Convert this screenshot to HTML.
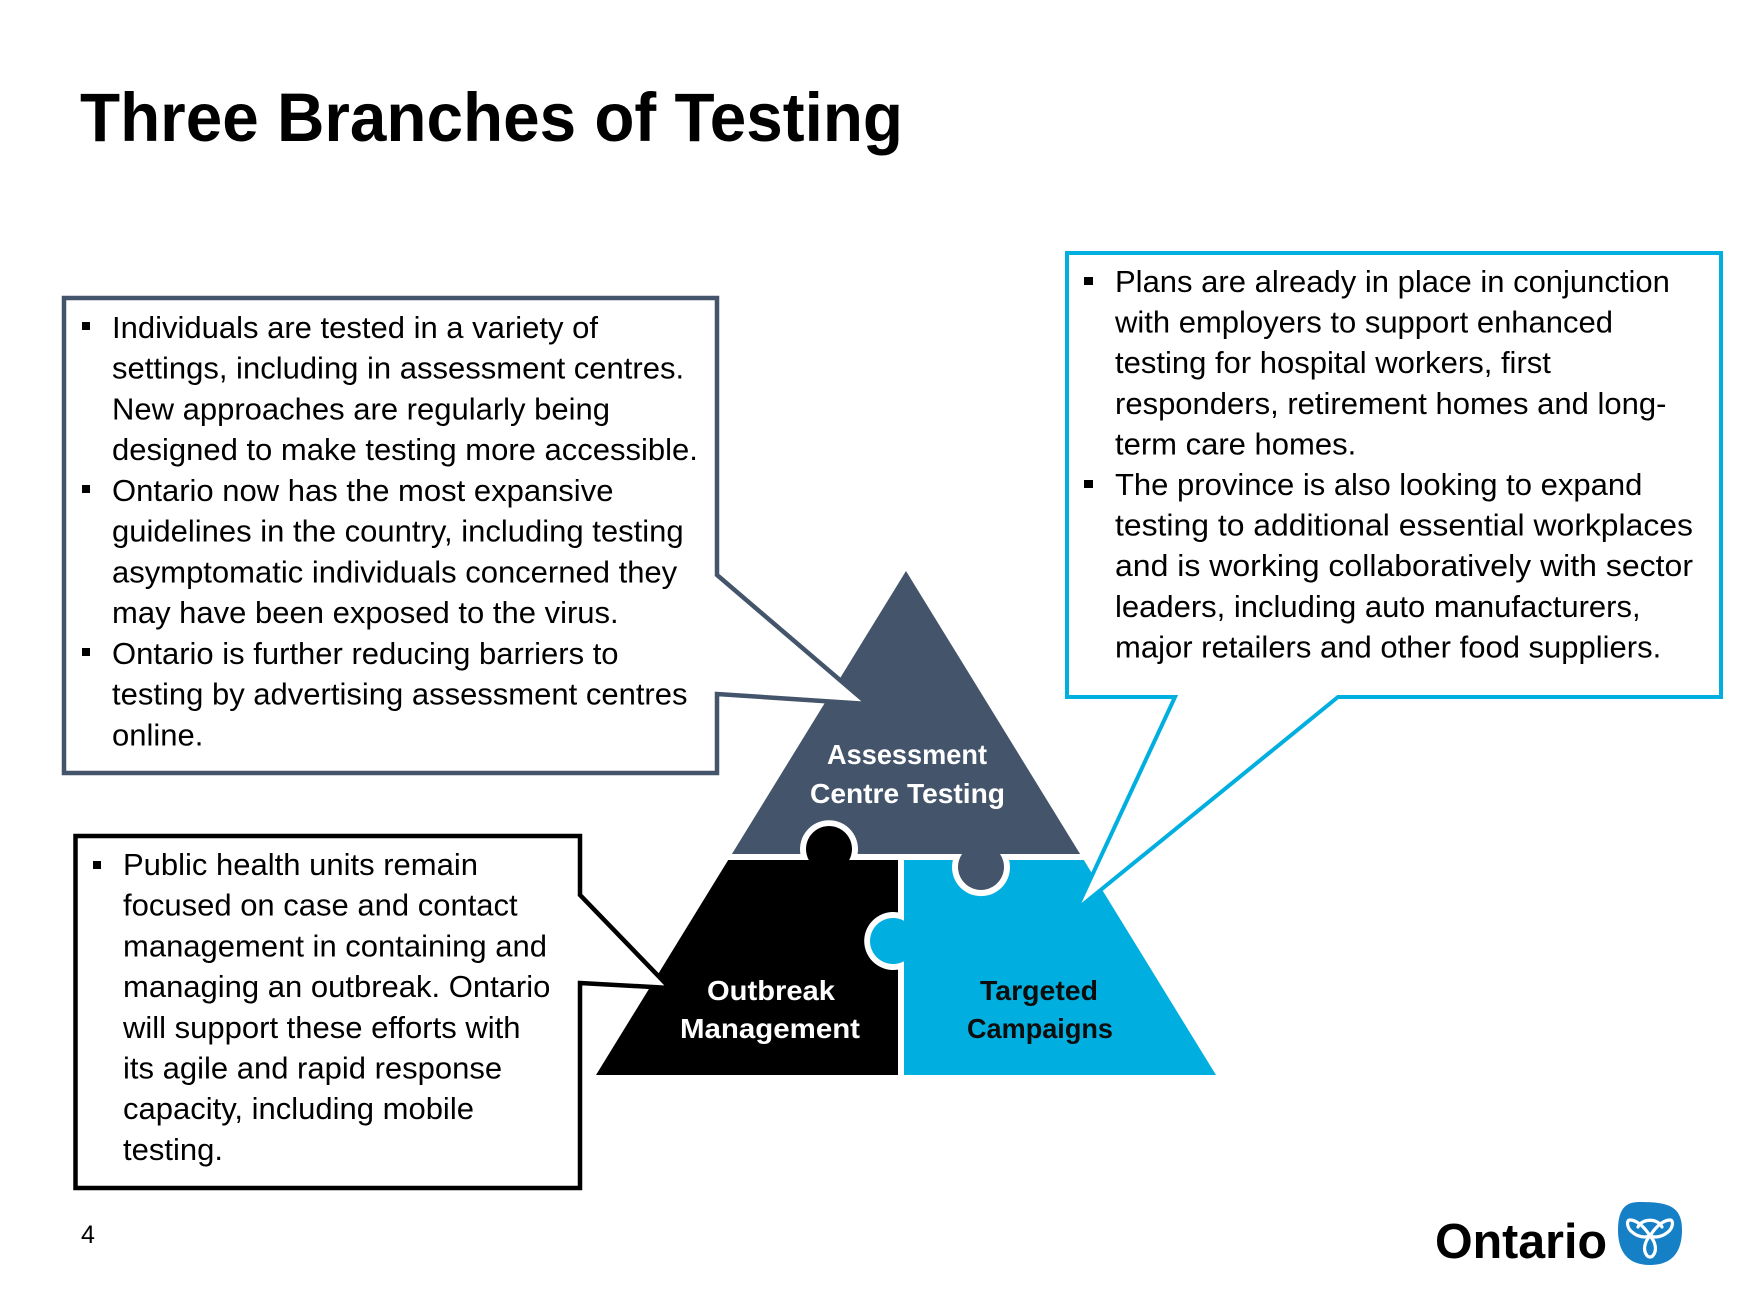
<!DOCTYPE html>
<html>
<head>
<meta charset="utf-8">
<style>
  html, body { margin: 0; padding: 0; background: #ffffff; }
  body { width: 1741px; height: 1307px; overflow: hidden; }
  svg { display: block; }
  .t { font-family: "Liberation Sans", Arial, sans-serif; font-size: 31px; fill: #000; }
  .lbl { font-family: "Liberation Sans", Arial, sans-serif; font-size: 28px; font-weight: bold; }
</style>
</head>
<body>
<svg width="1741" height="1307" viewBox="0 0 1741 1307" xmlns="http://www.w3.org/2000/svg">
  <rect x="0" y="0" width="1741" height="1307" fill="#ffffff"/>

  <!-- Title -->
  <text x="80" y="141" font-family="Liberation Sans, Arial, sans-serif" font-size="69" font-weight="bold" fill="#000" textLength="823" lengthAdjust="spacingAndGlyphs">Three Branches of Testing</text>

  <!-- Pyramid pieces -->
  <g transform="translate(-2,0)">
  <path d="M908,571 L1082.1,854 L1002,854 A23,23 0 1 1 964,854 L859.6,854 A29,29 0 1 0 802.4,854 L733.9,854 Z" fill="#44546A"/>
  <path d="M730.2,860 L810.8,860 A23,23 0 1 1 851.2,860 L900,860 L900,912.4 A29,29 0 1 0 900,969.6 L900,1075 L598,1075 Z" fill="#000000"/>
  <path d="M906,860 L954.9,860 A29,29 0 1 0 1011.1,860 L1085.8,860 L1218,1075 L906,1075 L906,961.2 A23,23 0 1 1 906,920.8 Z" fill="#00AFDF"/>
  </g>

  <!-- Pyramid labels -->
  <text class="lbl" x="907" y="764" text-anchor="middle" fill="#ffffff" textLength="160" lengthAdjust="spacingAndGlyphs">Assessment</text>
  <text class="lbl" x="907.5" y="803" text-anchor="middle" fill="#ffffff" textLength="195" lengthAdjust="spacingAndGlyphs">Centre Testing</text>
  <text class="lbl" x="771" y="1000" text-anchor="middle" fill="#ffffff" textLength="128" lengthAdjust="spacingAndGlyphs">Outbreak</text>
  <text class="lbl" x="770" y="1038" text-anchor="middle" fill="#ffffff" textLength="180" lengthAdjust="spacingAndGlyphs">Management</text>
  <text class="lbl" x="1039" y="1000" text-anchor="middle" fill="#0d0d0d" textLength="118" lengthAdjust="spacingAndGlyphs">Targeted</text>
  <text class="lbl" x="1040" y="1038" text-anchor="middle" fill="#0d0d0d" textLength="146" lengthAdjust="spacingAndGlyphs">Campaigns</text>

  <!-- Left callout (slate) -->
  <path d="M64,298 H717 V575 L868,704 L717,694 V773 H64 Z" fill="#ffffff" stroke="#44546A" stroke-width="4.5" stroke-linejoin="miter"/>
  <rect x="82" y="322" width="8" height="8" fill="#000"/>
  <rect x="82" y="485" width="8" height="8" fill="#000"/>
  <rect x="82" y="648" width="8" height="8" fill="#000"/>
  <text class="t" x="112" y="338">Individuals are tested in a variety of</text>
  <text class="t" x="112" y="378.7">settings, including in assessment centres.</text>
  <text class="t" x="112" y="419.5">New approaches are regularly being</text>
  <text class="t" x="112" y="460.2">designed to make testing more accessible.</text>
  <text class="t" x="112" y="501">Ontario now has the most expansive</text>
  <text class="t" x="112" y="541.7">guidelines in the country, including testing</text>
  <text class="t" x="112" y="582.5">asymptomatic individuals concerned they</text>
  <text class="t" x="112" y="623.2">may have been exposed to the virus.</text>
  <text class="t" x="112" y="664">Ontario is further reducing barriers to</text>
  <text class="t" x="112" y="704.7">testing by advertising assessment centres</text>
  <text class="t" x="112" y="745.5">online.</text>

  <!-- Right callout (cyan) -->
  <path d="M1067,253 H1721 V697 H1338 L1076,910 L1175,697 H1067 Z" fill="#ffffff" stroke="#00AFDF" stroke-width="4" stroke-linejoin="miter"/>
  <rect x="1084" y="277" width="9" height="8" fill="#000"/>
  <rect x="1084" y="480" width="9" height="8" fill="#000"/>
  <text class="t" x="1115" y="292">Plans are already in place in conjunction</text>
  <text class="t" x="1115" y="332.6">with employers to support enhanced</text>
  <text class="t" x="1115" y="373.2">testing for hospital workers, first</text>
  <text class="t" x="1115" y="413.8">responders, retirement homes and long-</text>
  <text class="t" x="1115" y="454.4">term care homes.</text>
  <text class="t" x="1115" y="495">The province is also looking to expand</text>
  <text class="t" x="1115" y="535.6" textLength="578" lengthAdjust="spacingAndGlyphs">testing to additional essential workplaces</text>
  <text class="t" x="1115" y="576.2" textLength="578" lengthAdjust="spacingAndGlyphs">and is working collaboratively with sector</text>
  <text class="t" x="1115" y="616.8">leaders, including auto manufacturers,</text>
  <text class="t" x="1115" y="657.4">major retailers and other food suppliers.</text>

  <!-- Bottom-left callout (black) -->
  <path d="M75.5,836 H580 V895 L670,988 L580,983 V1188 H75.5 Z" fill="#ffffff" stroke="#000000" stroke-width="4.5" stroke-linejoin="miter"/>
  <rect x="93" y="861" width="8" height="8" fill="#000"/>
  <text class="t" x="123" y="875">Public health units remain</text>
  <text class="t" x="123" y="915.7">focused on case and contact</text>
  <text class="t" x="123" y="956.4">management in containing and</text>
  <text class="t" x="123" y="997.1">managing an outbreak. Ontario</text>
  <text class="t" x="123" y="1037.8">will support these efforts with</text>
  <text class="t" x="123" y="1078.5">its agile and rapid response</text>
  <text class="t" x="123" y="1119.2">capacity, including mobile</text>
  <text class="t" x="123" y="1159.9">testing.</text>

  <!-- Page number -->
  <text x="81" y="1243" font-family="Liberation Sans, Arial, sans-serif" font-size="25" fill="#000">4</text>

  <!-- Ontario logo -->
  <text x="1435" y="1258" font-family="Liberation Sans, Arial, sans-serif" font-size="49" font-weight="bold" fill="#000" textLength="172" lengthAdjust="spacingAndGlyphs">Ontario</text>
  <path d="M1640,1202 C1668,1202 1682,1206 1682,1230 C1682,1252 1672,1265 1650,1265 C1628,1265 1618,1252 1618,1230 C1618,1206 1628,1202 1640,1202 Z" fill="#1580C6"/>
  <g fill="none" stroke="#ffffff" stroke-width="3.2" stroke-linejoin="round" stroke-linecap="round">
    <path d="M1650,1236 C1644,1226 1636,1220 1630,1220 C1626,1220 1627,1228 1632,1232 C1638,1237 1644,1238 1650,1236 Z"/>
    <path d="M1650,1236 C1656,1226 1664,1220 1670,1220 C1674,1220 1673,1228 1668,1232 C1662,1237 1656,1238 1650,1236 Z"/>
    <path d="M1650,1236 C1645,1241 1643,1249 1646,1254 C1648,1258 1652,1258 1654,1254 C1657,1249 1655,1241 1650,1236 Z"/>
    <path d="M1638,1227 C1642,1218 1658,1218 1662,1227"/>
  </g>
</svg>
</body>
</html>
